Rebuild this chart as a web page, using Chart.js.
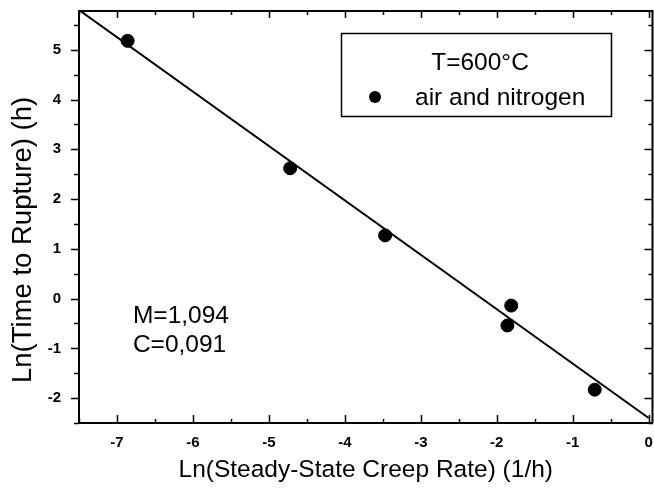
<!DOCTYPE html>
<html>
<head>
<meta charset="utf-8">
<script src="https://cdn.jsdelivr.net/npm/chart.js@4/dist/chart.umd.min.js"></script>
<style>
  html, body { margin: 0; padding: 0; background: #fff; overflow: hidden; }
  canvas { display: block; }
</style>
</head>
<body>
<canvas id="chart" width="660" height="493"></canvas>
<script>
let rateLn = [-6.86, -4.72, -3.47, -1.81, -1.86, -0.71];
let ruptureLn = [5.18, 2.62, 1.27, -0.14, -0.54, -1.83];

// fitted line end points
let fitX = [-7.5, 0];
let fitY = [5.8, -2.4];

let xTicks = [-7, -6, -5, -4, -3, -2, -1, 0];
let yTicks = [-2, -1, 0, 1, 2, 3, 4, 5];

let legendTitle = 'T=600\u00B0C';
let seriesLabel = 'air and nitrogen';
let noteLines = ['M=1,094', 'C=0,091'];

const fontFam = "Arial, 'Liberation Sans', sans-serif";

// draws the tick marks, top/right frame, legend box and the M/C note
const framePlugin = {
  id: 'frame',
  afterDatasetsDraw(chart) {
    const ctx = chart.ctx;
    const a = chart.chartArea;
    const xs = chart.scales.x;
    const ys = chart.scales.y;
    ctx.save();
    ctx.strokeStyle = '#000';
    ctx.lineWidth = 2;
    ctx.beginPath();
    ctx.moveTo(a.left, a.top);
    ctx.lineTo(a.right, a.top);
    ctx.lineTo(a.right, a.bottom);
    ctx.stroke();

    ctx.lineWidth = 1.5;
    ctx.beginPath();
    for (let v = -7.5; v <= 0.001; v += 0.5) {
      let px = Math.round(xs.getPixelForValue(v)) + 0.5;
      let major = Math.abs(v - Math.round(v)) < 0.01;
      ctx.moveTo(px, a.bottom);
      ctx.lineTo(px, a.bottom - (major ? 8 : 4));
      ctx.moveTo(px, a.top);
      ctx.lineTo(px, a.top + (major ? 7 : 4));
    }
    for (let v = -2.5; v <= 5.75; v += 0.5) {
      let py = Math.round(ys.getPixelForValue(v)) + 0.5;
      let major = Math.abs(v - Math.round(v)) < 0.01;
      ctx.moveTo(a.left, py);
      ctx.lineTo(a.left - (major ? 8 : 5), py);
      ctx.moveTo(a.right, py);
      ctx.lineTo(a.right - (major ? 8 : 4), py);
    }
    ctx.stroke();

    // legend box
    ctx.lineWidth = 1.5;
    ctx.strokeRect(341.5, 33.5, 270, 83);
    ctx.fillStyle = '#000';
    ctx.font = '24.5px ' + fontFam;
    ctx.textBaseline = 'middle';
    ctx.textAlign = 'center';
    ctx.fillText(legendTitle, 480, 63);
    ctx.textAlign = 'left';
    ctx.fillText(seriesLabel, 415, 98);
    ctx.beginPath();
    ctx.arc(375, 97, 6, 0, Math.PI * 2);
    ctx.fill();

    // fit parameters
    let nx = xs.getPixelForValue(-6.79);
    ctx.fillText(noteLines[0], nx, ys.getPixelForValue(-0.36));
    ctx.fillText(noteLines[1], nx, ys.getPixelForValue(-0.93));
    ctx.restore();
  }
};

new Chart(document.getElementById('chart').getContext('2d'), {
  type: 'scatter',
  data: {
    datasets: [
      {
        label: seriesLabel,
        data: rateLn.map((x, i) => ({ x: x, y: ruptureLn[i] })),
        backgroundColor: '#000',
        borderColor: '#000',
        pointRadius: 6.5,
        pointHoverRadius: 6.5
      },
      {
        label: 'fit',
        type: 'line',
        data: fitX.map((x, i) => ({ x: x, y: fitY[i] })),
        borderColor: '#000',
        borderWidth: 2,
        pointRadius: 0,
        fill: false
      }
    ]
  },
  options: {
    responsive: false,
    animation: false,
    devicePixelRatio: 1,
    layout: { padding: { left: 0, top: 11, right: 4, bottom: 0 } },
    plugins: { legend: { display: false }, tooltip: { enabled: false } },
    scales: {
      x: {
        type: 'linear',
        min: -7.5,
        max: 0.05,
        grid: { display: false, drawTicks: false },
        border: { display: true, color: '#000', width: 2 },
        afterBuildTicks: s => { s.ticks = xTicks.map(v => ({ value: v })); },
        afterFit: s => { s.height = 70; s.paddingLeft = 0; s.paddingRight = 0; },
        ticks: {
          color: '#000',
          padding: 11,
          maxRotation: 0,
          font: { family: fontFam, size: 15, weight: 'bold' }
        },
        title: {
          display: true,
          text: 'Ln(Steady-State Creep Rate) (1/h)',
          color: '#000',
          font: { family: fontFam, size: 24.5 },
          padding: { top: 0, bottom: 8 }
        }
      },
      y: {
        type: 'linear',
        min: -2.5,
        max: 5.78,
        grid: { display: false, drawTicks: false },
        border: { display: true, color: '#000', width: 2 },
        afterBuildTicks: s => { s.ticks = yTicks.map(v => ({ value: v })); },
        afterFit: s => { s.width = 79; s.paddingTop = 0; s.paddingBottom = 0; },
        ticks: {
          color: '#000',
          padding: 18,
          font: { family: fontFam, size: 15, weight: 'bold' }
        },
        title: {
          display: true,
          text: 'Ln(Time to Rupture) (h)      ',
          color: '#000',
          font: { family: fontFam, size: 27.5 },
          padding: { top: 7, bottom: 0 }
        }
      }
    }
  },
  plugins: [framePlugin]
});
</script>
</body>
</html>
